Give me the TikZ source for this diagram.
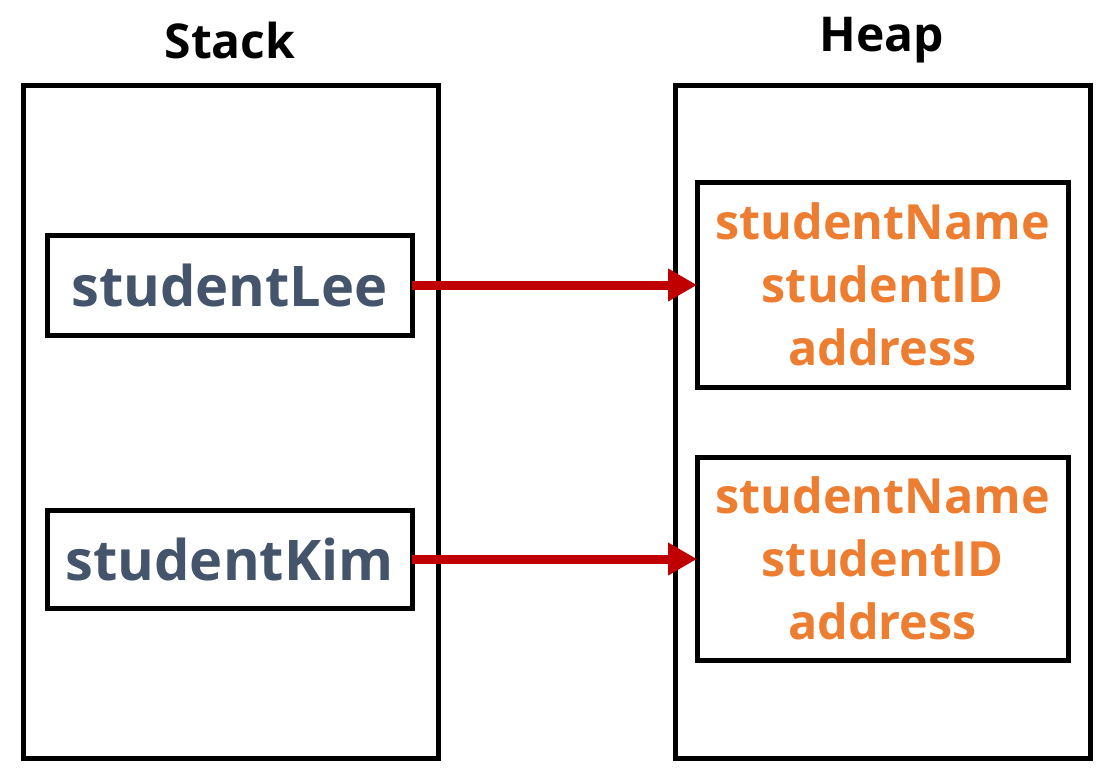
\documentclass[tikz,border=0pt]{standalone}
\usepackage{fontspec}
\setmainfont{Open Sans}
\usetikzlibrary{arrows.meta}
\definecolor{slate}{HTML}{44546A}
\definecolor{orng}{HTML}{ED7D31}
\definecolor{darkred}{HTML}{C00000}
\begin{document}
\begin{tikzpicture}[x=1pt,y=-1pt,
  frame/.style={draw=black,line width=5pt,inner sep=0pt,outer sep=0pt},
  varbox/.style={frame,minimum width=365pt,text=slate,font=\bfseries\fontsize{56}{60}\selectfont},
  objbox/.style={frame,minimum width=371pt,text=orng,align=center,font=\bfseries\fontsize{48.5}{63}\selectfont},
  title/.style={font=\bfseries\fontsize{48}{54}\selectfont,text=black},
  ref/.style={draw=darkred,line width=9pt,-{Triangle[length=29pt,width=31pt]}}]
\useasboundingbox (0,0) rectangle (1118,782);
\node[frame,minimum width=415pt,minimum height=673pt] (stack) at (230.5,421.5) {};
\node[frame,minimum width=415pt,minimum height=673pt] (heap) at (882.5,421.5) {};
\node[title] (stitle) at (230,40) {Stack};
\node[title] (htitle) at (882,40) {Heap};
\node[varbox,minimum height=100pt] (lee) at (229.5,285) {studentLee};
\node[varbox,minimum height=98pt] (kim) at (229.5,559) {studentKim};
\node[objbox,minimum height=205pt] (obj1) at (882.5,284.5) {studentName\\studentID\\address};
\node[objbox,minimum height=203pt] (obj2) at (882.5,558.5) {studentName\\studentID\\address};
\draw[ref] (lee.east) -- (obj1.west |- lee.east);
\draw[ref] (kim.east) -- (obj2.west |- kim.east);
\end{tikzpicture}
\end{document}
